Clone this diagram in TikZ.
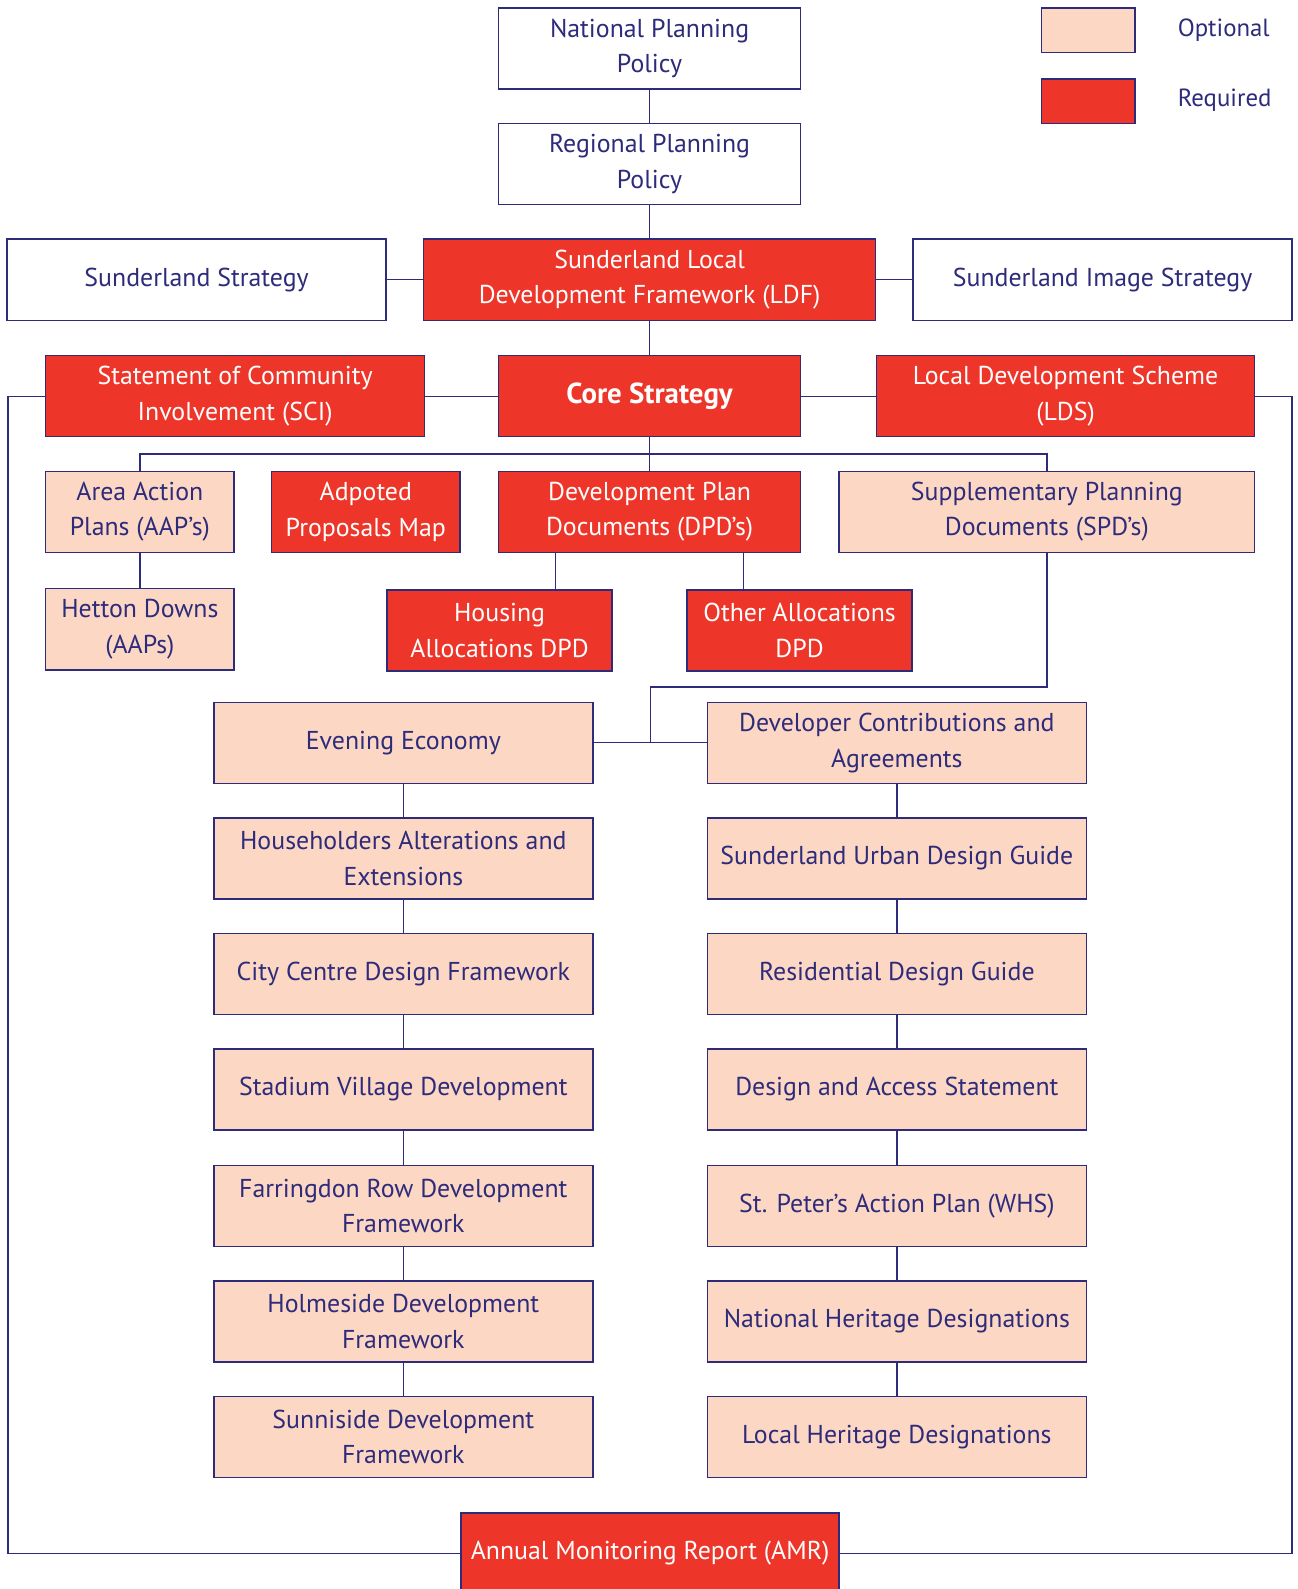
\documentclass[tikz,border=0pt]{standalone}
\usepackage{fontspec}
\setmainfont{PT Sans}
\definecolor{navy}{RGB}{46,43,122}
\definecolor{reqred}{RGB}{237,53,41}
\definecolor{optpink}{RGB}{252,216,196}
\begin{document}
\begin{tikzpicture}[x=1pt,y=-1pt,
  box/.style={draw=navy,line width=1.4pt,minimum height=80pt,inner sep=2pt,align=center,font=\fontsize{25.5}{35}\selectfont},
  wht/.style={box,fill=white,text=navy},
  req/.style={box,fill=reqred,text=white},
  opt/.style={box,fill=optpink,text=navy},
  link/.style={draw=navy,line width=1.3pt}]
\useasboundingbox (0,0) rectangle (1280,1568);
\fill[white] (0,0) rectangle (1280,1568);
% legend
\node[opt,minimum width=92pt,minimum height=44pt] (lopt) at (1074,30) {};
\node[req,minimum width=92pt,minimum height=44pt] (lreq) at (1074,100) {};
\node[anchor=west,text=navy,font=\fontsize{24.5}{34}\selectfont,inner sep=0pt] (topt) at (1162,30) {Optional};
\node[anchor=west,text=navy,font=\fontsize{24.5}{34}\selectfont,inner sep=0pt] (treq) at (1162,99) {Required};
% top
\node[wht,minimum width=298pt] (nat) at (641,48) {National Planning\\Policy};
\node[wht,minimum width=298pt] (reg) at (641,162) {Regional Planning\\Policy};
\node[wht,minimum width=374pt] (ss) at (194,276) {Sunderland Strategy};
\node[req,minimum width=446pt] (ldf) at (641,276) {Sunderland Local\\Development Framework (LDF)};
\node[wht,minimum width=374pt] (sis) at (1088,276) {Sunderland Image Strategy};
\node[req,minimum width=374pt] (sci) at (232,391) {Statement of Community\\Involvement (SCI)};
\node[req,minimum width=298pt,font=\fontsize{28.5}{35}\selectfont\bfseries] (core) at (641,391) {Core Strategy};
\node[req,minimum width=373pt] (lds) at (1051.5,391) {Local Development Scheme\\(LDS)};
% third row
\node[opt,minimum width=186pt] (aap) at (138,505) {Area Action\\Plans (AAP’s)};
\node[req,minimum width=186pt] (apm) at (361,505) {Adpoted\\Proposals Map};
\node[req,minimum width=298pt] (dpd) at (641,505) {Development Plan\\Documents (DPD’s)};
\node[opt,minimum width=410pt] (spd) at (1033,505) {Supplementary Planning\\Documents (SPD’s)};
\node[opt,minimum width=186pt] (het) at (138,621) {Hetton Downs\\(AAPs)};
\node[req,minimum width=222pt] (hou) at (493,622) {Housing\\Allocations DPD};
\node[req,minimum width=222pt] (oth) at (789,622) {Other Allocations\\DPD};
% left column
\node[opt,minimum width=374pt] (l1) at (398,733) {Evening Economy};
\node[opt,minimum width=374pt] (l2) at (398,847) {Householders Alterations and\\Extensions};
\node[opt,minimum width=374pt] (l3) at (398,961) {City Centre Design Framework};
\node[opt,minimum width=374pt] (l4) at (398,1075) {Stadium Village Development};
\node[opt,minimum width=374pt] (l5) at (398,1190) {Farringdon Row Development\\Framework};
\node[opt,minimum width=374pt] (l6) at (398,1304) {Holmeside Development\\Framework};
\node[opt,minimum width=374pt] (l7) at (398,1418) {Sunniside Development\\Framework};
% right column
\node[opt,minimum width=374pt] (r1) at (885,733) {Developer Contributions and\\Agreements};
\node[opt,minimum width=374pt] (r2) at (885,847) {Sunderland Urban Design Guide};
\node[opt,minimum width=374pt] (r3) at (885,961) {Residential Design Guide};
\node[opt,minimum width=374pt] (r4) at (885,1075) {Design and Access Statement};
\node[opt,minimum width=374pt] (r5) at (885,1190) {St. Peter’s Action Plan (WHS)};
\node[opt,minimum width=374pt] (r6) at (885,1304) {National Heritage Designations};
\node[opt,minimum width=374pt] (r7) at (885,1418) {Local Heritage Designations};
% AMR
\node[req,minimum width=373pt,minimum height=80pt] (amr) at (641.5,1533) {Annual Monitoring Report (AMR)};
\coordinate (j) at (642,733);
\coordinate (bus) at (641,448);
\coordinate (spdturn) at (1033,678);
\coordinate (lcorner) at (8,391);
\coordinate (rcorner) at (1275,391);
% connectors
\draw[link] (nat) -- (reg);
\draw[link] (reg) -- (ldf);
\draw[link] (ss) -- (ldf);
\draw[link] (ldf) -- (sis);
\draw[link] (ldf) -- (core);
\draw[link] (sci) -- (core);
\draw[link] (core) -- (lds);
\draw[link] (core.south) -- (dpd.north);
\draw[link] (aap.north) |- (bus) -| (spd.north);
\draw[link] (aap) -- (het);
\draw[link] ([xshift=-93pt]dpd.south) -- ([xshift=-93pt]dpd.south |- hou.north);
\draw[link] ([xshift=93pt]dpd.south) -- ([xshift=93pt]dpd.south |- oth.north);
\draw[link] (spd.south) -- (spdturn) -| (j);
\draw[link] (l1) -- (r1);
\draw[link] (l1) -- (l2); \draw[link] (l2) -- (l3); \draw[link] (l3) -- (l4);
\draw[link] (l4) -- (l5); \draw[link] (l5) -- (l6); \draw[link] (l6) -- (l7);
\draw[link] (r1) -- (r2); \draw[link] (r2) -- (r3); \draw[link] (r3) -- (r4);
\draw[link] (r4) -- (r5); \draw[link] (r5) -- (r6); \draw[link] (r6) -- (r7);
\draw[link] (sci.west) -- (lcorner) |- (amr.west);
\draw[link] (lds.east) -- (rcorner) |- (amr.east);
\end{tikzpicture}
\end{document}
